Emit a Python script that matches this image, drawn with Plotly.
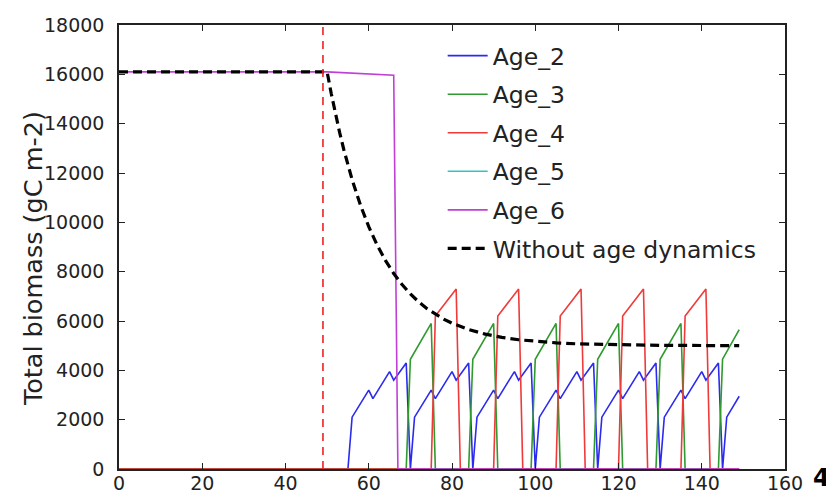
import plotly.graph_objects as go

# ---- data ----
age2_x = [0, 55, 56, 60, 61, 65, 66, 69, 70, 71, 75, 76, 80, 81, 84, 85, 86, 90, 91, 95, 96, 99,
          100, 101, 105, 106, 110, 111, 114, 115, 116, 120, 121, 125, 126, 129,
          130, 131, 135, 136, 140, 141, 144, 145, 146, 149]
age2_y = [0, 0, 2100, 3200, 2850, 3950, 3600, 4300, 0, 2100, 3200, 2850, 3950, 3600, 4300, 0, 2100, 3200, 2850, 3950, 3600, 4300,
          0, 2100, 3200, 2850, 3950, 3600, 4300, 0, 2100, 3200, 2850, 3950, 3600, 4300,
          0, 2100, 3200, 2850, 3950, 3600, 4300, 0, 2100, 2950]

age3_x = [0, 69, 70, 75, 76, 84, 85, 90, 91, 99, 100, 105, 106, 114, 115, 120, 121, 129, 130, 135, 136, 144, 145, 149]
age3_y = [0, 0, 4450, 5900, 0, 0, 4450, 5900, 0, 0, 4450, 5900, 0, 0, 4450, 5900, 0, 0, 4450, 5900, 0, 0, 4450, 5650]

age4_x = [0, 75, 76, 81, 82, 90, 91, 96, 97, 105, 106, 111, 112, 120, 121, 126, 127, 135, 136, 141, 142, 149]
age4_y = [0, 0, 6200, 7300, 0, 0, 6200, 7300, 0, 0, 6200, 7300, 0, 0, 6200, 7300, 0, 0, 6200, 7300, 0, 0]

age5_x = [0, 149]
age5_y = [0, 0]

age6_x = [0, 50, 66, 67, 149]
age6_y = [16100, 16100, 15960, 0, 0]

noage_x = [0, 50, 51, 52, 53, 54, 55, 56, 58, 60, 62, 64, 66, 68, 70, 72, 74, 76, 78, 80,
           84, 88, 92, 96, 100, 105, 110, 120, 130, 140, 149]
noage_y = [16100, 16100, 15212, 14396, 13645, 12953, 12317, 11732, 10699, 9824, 9084, 8457, 7926, 7477, 7097,
           6775, 6502, 6272, 6077, 5911, 5653, 5467, 5335, 5240, 5172, 5114, 5075, 5033, 5014, 5006, 5003]

event_year = 49
x_ticks = [0, 20, 40, 60, 80, 100, 120, 140, 160]
y_ticks = [0, 2000, 4000, 6000, 8000, 10000, 12000, 14000, 16000, 18000]

# (name, x, y, colour, legend rank); Age_5 drawn first so the red/magenta zero lines sit on top
series = [
    ("Age_5", age5_x, age5_y, "#30c4c4", 4),
    ("Age_2", age2_x, age2_y, "#2b2bef", 1),
    ("Age_3", age3_x, age3_y, "#2f9a2f", 2),
    ("Age_4", age4_x, age4_y, "#f03a3a", 3),
    ("Age_6", age6_x, age6_y, "#c040d6", 5),
]

FONT = "DejaVu Sans"
fig = go.Figure()
for name, xs, ys, col, rank in series:
    fig.add_trace(go.Scatter(x=xs, y=ys, mode="lines", name=name, legendgroup=name,
                             legendrank=rank, line=dict(color=col, width=1.6)))
fig.add_trace(go.Scatter(x=noage_x, y=noage_y, mode="lines", name="Without age dynamics",
                         legendgroup="noage", legendrank=6,
                         line=dict(color="black", width=3.2, dash="9px,5px")))

fig.add_shape(type="line", xref="x", yref="paper", x0=event_year, x1=event_year, y0=0, y1=1,
              line=dict(color="#ee2222", width=1.6, dash="8px,6px"))

axis_common = dict(showgrid=False, zeroline=False, showline=True, linecolor="#222",
                   linewidth=1.5, mirror="ticks", ticks="inside", ticklen=6, tickwidth=1,
                   tickcolor="#222", automargin=False, tickformat="d",
                   tickfont=dict(family=FONT, size=19, color="#222"))
fig.update_xaxes(range=[0, 160], tickvals=x_ticks, ticklabelstandoff=-4, **axis_common)
fig.update_yaxes(range=[0, 18000], tickvals=y_ticks, ticklabelstandoff=9, **axis_common)

fig.add_annotation(text="Total biomass (gC m-2)", xref="paper", yref="paper",
                   x=-0.129, y=0.473, xanchor="center", yanchor="middle",
                   textangle=-90, showarrow=False,
                   font=dict(family=FONT, size=25.5, color="#222"))
fig.add_annotation(text="<b>4</b>", xref="paper", yref="paper", x=1.055, y=-0.056,
                   xanchor="center", yanchor="bottom", showarrow=False,
                   font=dict(family=FONT, size=24, color="black"))

# the page adds an 8px body margin, so the figure is 8px smaller and shifted accordingly
fig.update_layout(
    width=826, height=486,
    margin=dict(l=111, r=49, t=17, b=25),
    paper_bgcolor="white", plot_bgcolor="white",
    showlegend=True,
    legend=dict(x=0.486, y=0.98, xanchor="left", yanchor="top", bgcolor="rgba(0,0,0,0)",
                borderwidth=0, tracegroupgap=5, itemwidth=40,
                font=dict(family=FONT, size=23.5, color="#222")),
)
fig.write_html("out.html")
